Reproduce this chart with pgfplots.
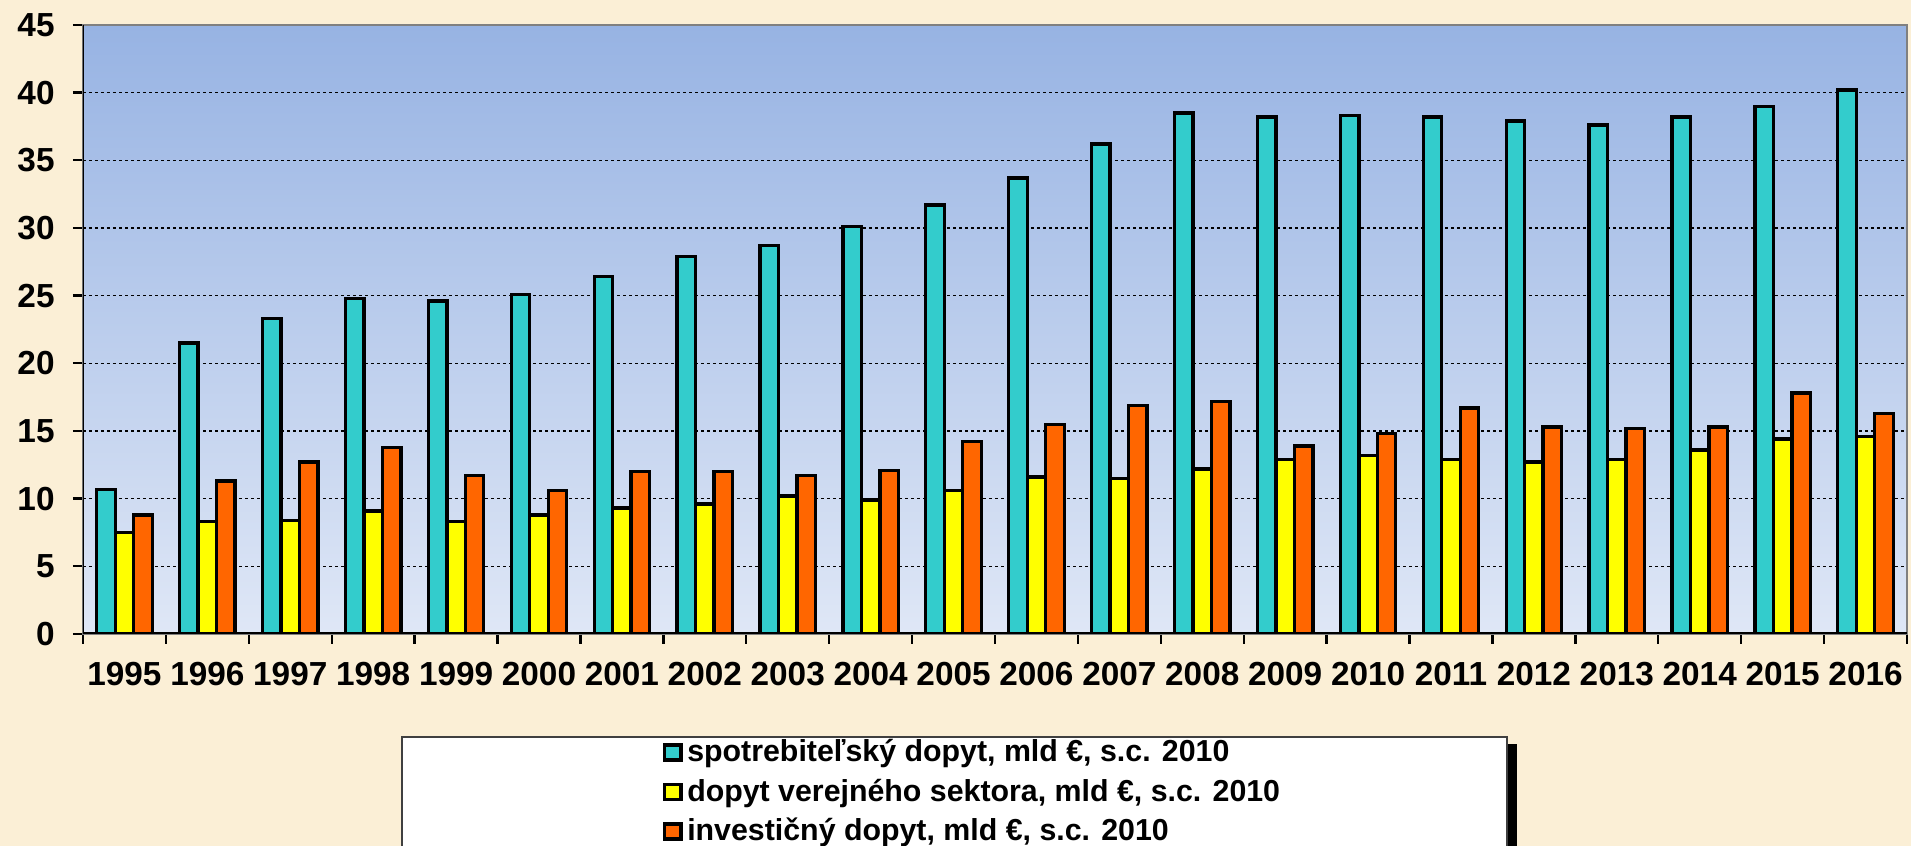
\documentclass[border=0pt]{standalone}
\usepackage{fontspec}
\setmainfont{Liberation Sans}
\usepackage{pgfplots}
\pgfplotsset{compat=1.18}
\usepackage{pgfplotstable}

\definecolor{bgbeige}{HTML}{FBEFD6}
\definecolor{plottop}{HTML}{97B3E3}
\definecolor{plotbot}{HTML}{DFE7F6}
\definecolor{cyanbar}{HTML}{33CCCC}
\definecolor{yellowbar}{HTML}{FFFF00}
\definecolor{orangebar}{HTML}{FF6600}

\pgfplotstableread{
x c g i
0 10.7 7.5 8.8
1 21.5 8.3 11.3
2 23.3 8.4 12.7
3 24.8 9.1 13.8
4 24.6 8.3 11.7
5 25.1 8.8 10.6
6 26.4 9.3 12.0
7 27.9 9.6 12.0
8 28.7 10.2 11.7
9 30.1 9.9 12.1
10 31.7 10.6 14.2
11 33.7 11.6 15.5
12 36.2 11.5 16.9
13 38.5 12.2 17.2
14 38.2 12.9 13.9
15 38.3 13.2 14.8
16 38.2 12.9 16.7
17 37.9 12.7 15.3
18 37.6 12.9 15.2
19 38.2 13.6 15.3
20 39.0 14.4 17.8
21 40.2 14.6 16.3
}\data

\begin{document}
\begin{tikzpicture}
\useasboundingbox (0,0) rectangle (573.3pt,253.8pt);
\fill[bgbeige] (0,0) rectangle (573.3pt,253.8pt);
\fill[black] (452.1pt,-5pt) rectangle (455.1pt,30.7pt);
\filldraw[fill=white, draw=black!75, line width=0.5pt] (120.6pt,-5pt) rectangle (452.1pt,32.7pt);
\begin{axis}[
  at={(24.9pt,63.6pt)}, anchor=south west,
  width=547.2pt, height=182.7pt, scale only axis,
  ybar, bar width=0.223,
  xmin=-0.5, xmax=21.5, ymin=0, ymax=45,
  xtick={-0.5,0.5,...,21.5},
  x tick label as interval,
  xticklabels={1995,1996,1997,1998,1999,2000,2001,2002,2003,2004,2005,2006,2007,2008,2009,2010,2011,2012,2013,2014,2015,2016},
  ytick={0,5,...,45},
  tick align=outside, major tick length=3pt,
  tick pos=left,
  ymajorgrids,
  major grid style={black, dash pattern=on 1pt off 0.8pt, line width=0.45pt},
  axis background/.style={top color=plottop, bottom color=plotbot},
  axis line style={draw=gray, line width=0.8pt},
  tick style={black, line width=0.7pt},
  ticklabel style={font=\fontsize{10}{12}\selectfont\bfseries},
  /pgf/number format/assume math mode=true,
  yticklabel style={xshift=-2pt},
  xticklabel style={yshift=-2pt},
  legend cell align=left,
  legend style={at={(rel axis cs:0.3174,-0.167)}, anchor=north west,
    draw=none, fill=none, inner sep=0pt,
    font=\fontsize{9.1}{10}\selectfont\bfseries,
    row sep=1.7pt, column sep=0.8pt,
    nodes={inner sep=0.5pt, text height=7pt, text depth=2.2pt}},
  sqlegend/.style={legend image code/.code={\draw[##1, draw=black, line width=1.1pt] (0.3pt,-1.9pt) rectangle (5.3pt,2.6pt);}},
]
\addplot[fill=cyanbar, draw=black, line width=1pt, bar shift=-0.223, sqlegend] table[x=x, y=c] {\data};
\addlegendentry{spotrebiteľský dopyt, mld €, s.c. 2010}
\addplot[fill=yellowbar, draw=black, line width=1pt, bar shift=0, sqlegend] table[x=x, y=g] {\data};
\addlegendentry{dopyt verejného sektora, mld €, s.c. 2010}
\addplot[fill=orangebar, draw=black, line width=1pt, bar shift=0.223, sqlegend] table[x=x, y=i] {\data};
\addlegendentry{investičný dopyt, mld €, s.c. 2010}
\draw[black, line width=0.9pt] (rel axis cs:0,1) -- (rel axis cs:0,0) -- (rel axis cs:1,0);
\end{axis}
\end{tikzpicture}
\end{document}
